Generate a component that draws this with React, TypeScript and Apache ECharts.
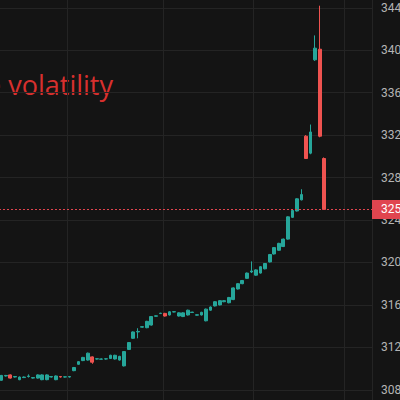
import React, { useEffect, useRef } from "react";
import * as echarts from "echarts";

// OHLC values (price units)
const opens = [
  308.9, 309.3, 309.4, 309.2, 308.95, 309.15, 309.25, 309.1, 309.1, 308.95,
  308.95, 309.2, 308.95, 309.25, 309.2, 309.2, 309.8, 310.4, 310.75, 310.8,
  311.1, 310.9, 310.88, 310.9, 310.95, 310.9, 310.8, 310.25, 311.8, 312.85,
  313.45, 313.9, 313.85, 314.1, 314.93, 315.18, 315.2, 315.05, 315.33, 314.95,
  314.9, 315.05, 315.28, 315.03, 315.05, 314.5, 315.5, 315.9, 316.0, 316.3,
  316.2, 316.5, 317.5, 318.0, 318.5, 319.1, 318.8, 319.0, 319.4, 320.05,
  320.8, 321.15, 321.5, 322.2, 324.25, 324.85, 325.9, 331.9, 330.3, 339.1,
  340.1, 329.8,
];
const closes = [
  309.35, 309.35, 309.1, 309.25, 309.2, 309.2, 309.3, 309.15, 309.4, 309.4,
  309.4, 309.25, 309.3, 309.2, 309.22, 309.25, 310.1, 310.65, 311.05, 311.45,
  310.6, 310.92, 310.9, 310.92, 311.25, 311.25, 311.15, 311.6, 312.45, 313.45,
  313.5, 313.95, 314.45, 314.9, 314.97, 315.22, 314.95, 315.35, 315.36, 315.25,
  315.25, 315.5, 315.32, 315.07, 315.3, 315.6, 315.8, 316.3, 316.4, 316.4,
  316.7, 317.6, 318.0, 318.3, 319.0, 319.2, 319.3, 319.6, 319.9, 320.75,
  321.4, 321.8, 322.2, 324.3, 324.9, 326.0, 326.4, 329.8, 332.3, 340.2,
  331.9, 325.0,
];
const lows = [
  308.85, 309.25, 309.05, 309.15, 308.9, 309.1, 309.15, 309.05, 309.05, 308.9,
  308.9, 309.15, 308.9, 309.15, 309.15, 309.15, 309.75, 310.35, 310.7, 310.75,
  310.45, 310.85, 310.85, 310.85, 310.9, 310.85, 310.75, 310.2, 311.75, 312.8,
  312.85, 313.85, 313.8, 314.05, 314.9, 315.15, 314.9, 315.0, 315.3, 314.9,
  314.85, 315.0, 315.25, 315.0, 315.0, 314.45, 315.45, 315.85, 315.95, 316.25,
  316.15, 316.45, 317.45, 317.95, 318.45, 319.0, 318.75, 318.95, 319.35, 320.0,
  320.75, 321.1, 321.45, 322.15, 324.2, 324.8, 325.85, 329.75, 330.2, 339.0,
  331.8, 324.95,
];
const highs = [
  309.4, 309.4, 309.45, 309.3, 309.25, 309.25, 309.45, 309.2, 309.45, 309.45,
  309.45, 309.3, 309.35, 309.3, 309.25, 309.3, 310.15, 310.7, 311.1, 311.5,
  311.15, 310.95, 310.95, 310.95, 311.3, 311.3, 311.2, 311.65, 312.5, 313.5,
  313.8, 314.0, 314.5, 314.95, 315.0, 315.25, 315.25, 315.4, 315.4, 315.3,
  315.3, 315.55, 315.35, 315.1, 315.35, 315.65, 315.85, 316.35, 316.45, 316.45,
  316.75, 317.65, 318.05, 318.35, 319.05, 320.1, 319.35, 319.65, 319.95, 320.8,
  321.45, 321.85, 322.25, 324.35, 324.95, 326.05, 326.9, 332.0, 333.0, 341.4,
  344.2, 329.9,
];
const emptySlots = 10; // empty space to the right of the last candle
const sessionBreaks = [15, 36, 56, 76]; // category boundaries with vertical grid lines
const yMin = 304;
const yMax = 348;
const yStep = 4;
const annotation = "Extreme volatility";

const UP = "#26a69a";
const DOWN = "#ef5350";
const TAG = "#e0454f";

export default function App() {
  const ref = useRef<HTMLDivElement>(null);
  useEffect(() => {
    if (!ref.current) return;
    const chart = echarts.init(ref.current, null, { renderer: "svg" });
    const n = opens.length + emptySlots;
    const categories = Array.from({ length: n }, (_, i) => "c" + i);
    const data = opens.map((o, i) => [o, closes[i], lows[i], highs[i]]);
    const last = closes[closes.length - 1];
    chart.setOption({
      animation: false,
      backgroundColor: "#141414",
      grid: {
        left: -1,
        right: 28,
        top: -34.6,
        bottom: -32.2,
        containLabel: false,
        outerBoundsMode: "none",
      },
      xAxis: {
        type: "category",
        data: categories,
        boundaryGap: true,
        axisLine: { show: false },
        axisTick: { show: false },
        axisLabel: { show: false },
        splitLine: {
          show: true,
          interval: (index: number) => sessionBreaks.includes(index),
          lineStyle: { color: "#242424", width: 1 },
        },
      },
      yAxis: {
        type: "value",
        position: "right",
        min: yMin,
        max: yMax,
        interval: yStep,
        axisLine: { show: false },
        axisTick: { show: false },
        axisLabel: {
          margin: 9,
          color: "#b4b4b4",
          fontSize: 12,
          fontFamily: "Roboto, sans-serif",
          formatter: (v: number) => v.toFixed(2),
        },
        splitLine: { show: true, lineStyle: { color: "#242424", width: 1 } },
      },
      series: [
        {
          type: "candlestick",
          data,
          barWidth: "72%",
          itemStyle: {
            color: UP,
            color0: DOWN,
            borderColor: UP,
            borderColor0: DOWN,
            borderWidth: 1,
          },
          markLine: {
            silent: true,
            symbol: "none",
            data: [{ yAxis: last }],
            lineStyle: { color: TAG, type: [2, 2], width: 1 },
            label: {
              show: true,
              position: "end",
              distance: 0,
              formatter: () => last.toFixed(2),
              color: "#ffffff",
              backgroundColor: TAG,
              fontSize: 12,
              fontFamily: "Roboto, sans-serif",
              padding: [4, 6, 3, 9],
            },
          },
        },
      ],
      graphic: [
        {
          type: "text",
          x: 113,
          y: 84,
          style: {
            text: annotation,
            fill: "#d8302e",
            font: "27px 'Open Sans', sans-serif",
            textAlign: "right",
            textVerticalAlign: "middle",
          },
        },
      ],
    });
    return () => chart.dispose();
  }, []);
  return (
    <div
      ref={ref}
      style={{ position: "fixed", left: 0, top: 0, width: 400, height: 400 }}
    />
  );
}
